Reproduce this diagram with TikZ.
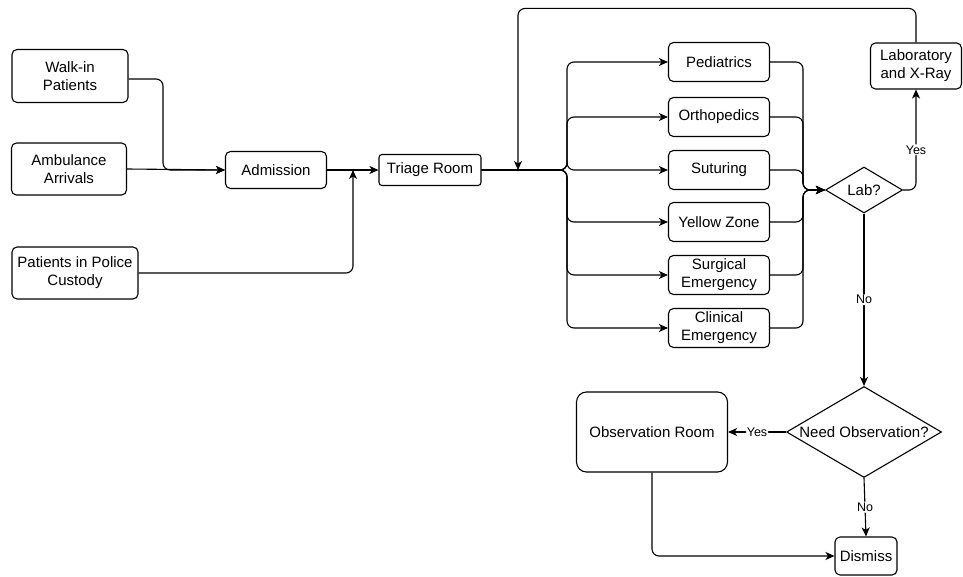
\documentclass[tikz,border=0pt]{standalone}
\usepackage{fontspec}
\setmainfont{Liberation Sans}
\usetikzlibrary{arrows.meta, positioning, shapes.geometric}

\begin{document}
\begin{tikzpicture}[
  x = 1pt, y = -1pt,
  > = {Stealth[length=9pt, width=8pt, inset=2.5pt]},
  flow/.style = {->, line width=1.1pt, rounded corners=7pt},
  box/.style = {draw, line width=1.1pt, rounded corners=5pt, align=center, inner sep=0pt, font=\fontsize{15}{18}\selectfont},
  dept/.style = {box, minimum width=101pt, minimum height=39pt},
  decision/.style = {draw, line width=1.1pt, diamond, inner sep=0pt},
  answer/.style = {fill=white, inner sep=1pt, font=\fontsize{12.5}{14}\selectfont}
]
  \useasboundingbox (0,0) rectangle (963,577);

  \node[box, minimum width=116pt, minimum height=53pt] (walkin) at (70,76) {Walk-in\\Patients};
  \node[box, minimum width=115pt, minimum height=52pt] (ambulance) at (69,169) {Ambulance\\Arrivals};
  \node[box, minimum width=126pt, minimum height=52pt] (police) at (75,273) {Patients in Police\\Custody};
  \node[box, minimum width=101pt, minimum height=37pt] (admission) at (276,170) {Admission};
  \node[box, minimum width=102pt, minimum height=31pt, rounded corners=3pt] (triage) at (430,170) {Triage Room};

  \node[dept] (ped) at (719,62) {Pediatrics};
  \node[dept] (ortho) at (719,117) {Orthopedics};
  \node[dept] (sut) at (719,170) {Suturing};
  \node[dept] (yellow) at (719,222) {Yellow Zone};
  \node[dept] (surg) at (719,275) {Surgical\\Emergency};
  \node[dept] (clin) at (719,328) {Clinical\\Emergency};

  \node[box, minimum width=91pt, minimum height=46pt] (lab) at (916,66) {Laboratory\\and X-Ray};
  \node[decision, minimum width=77pt, minimum height=46pt,
        label={[font=\fontsize{15}{18}\selectfont]center:Lab?}] (labq) at (864,190) {};
  \node[decision, minimum width=155pt, minimum height=91pt,
        label={[font=\fontsize{15}{18}\selectfont]center:Need Observation?}] (needobs) at (864,432) {};
  \node[box, minimum width=151pt, minimum height=80pt, rounded corners=10pt] (obs) at (652,432) {Observation Room};
  \node[box, minimum width=62pt, minimum height=38pt] (dismiss) at (866,556) {Dismiss};

  \coordinate (jw) at (163,170);
  \coordinate (jp) at (353,170);
  \coordinate (back) at (518,170);
  \coordinate (split) at (567,170);
  \coordinate (merge) at (803,190);

  \draw[flow] ([yshift=-3pt]walkin.east) -| (jw) -- (admission.west);
  \draw[flow] (ambulance.east) -- (admission.west);
  \draw[flow] (police.east) -| (jp);
  \draw[flow] (admission) -- (triage);

  \draw[flow] (triage.east) -- (split) |- (ped.west);
  \draw[flow] (triage.east) -- (split) |- (ortho.west);
  \draw[flow] (triage.east) -- (split) |- (sut.west);
  \draw[flow] (triage.east) -- (split) |- (yellow.west);
  \draw[flow] (triage.east) -- (split) |- (surg.west);
  \draw[flow] (triage.east) -- (split) |- (clin.west);

  \draw[flow] (ped.east) -| (merge) -- (labq.west);
  \draw[flow] (ortho.east) -| (merge) -- (labq.west);
  \draw[flow] (sut.east) -| (merge) -- (labq.west);
  \draw[flow] (yellow.east) -| (merge) -- (labq.west);
  \draw[flow] (surg.east) -| (merge) -- (labq.west);
  \draw[flow] (clin.east) -| (merge) -- (labq.west);

  \draw[flow] (labq.east) -| node[answer, pos=0.7] {Yes} (lab.south);
  \draw[flow] (lab.north) -- ++(0,-34) -| (back);
  \draw[flow] (labq.south) -- node[answer] {No} (needobs.north);
  \draw[flow] (needobs.west) -- node[answer] {Yes} (obs.east);
  \draw[flow] (needobs.south) -- node[answer] {No} (dismiss.north);
  \draw[flow] (obs.south) |- (dismiss.west);
\end{tikzpicture}
\end{document}
